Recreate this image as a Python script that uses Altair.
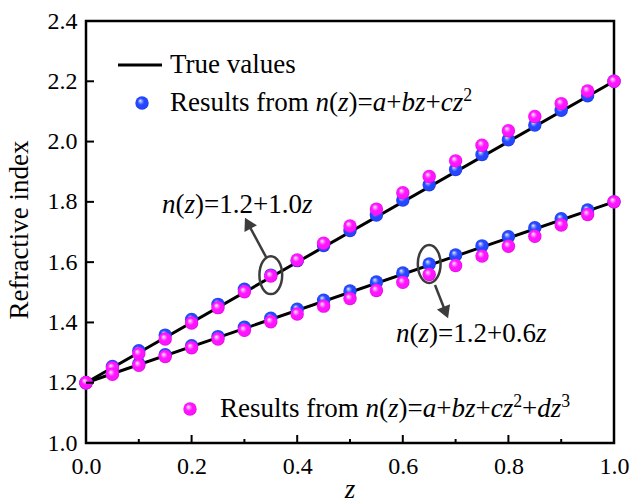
import altair as alt
import pandas as pd

# ---- data ----
z_vals = [0.00, 0.05, 0.10, 0.15, 0.20, 0.25, 0.30, 0.35, 0.40, 0.45, 0.50,
          0.55, 0.60, 0.65, 0.70, 0.75, 0.80, 0.85, 0.90, 0.95, 1.00]

# true profiles n(z)=1.2+1.0z and n(z)=1.2+0.6z (straight lines, end points)
true_z = [0.0, 1.0]
true_upper = [1.2, 2.2]
true_lower = [1.2, 1.8]

# recovered profiles, quadratic model
quad_upper = [1.200, 1.254, 1.306, 1.358, 1.410, 1.460, 1.510, 1.557, 1.605, 1.655, 1.705,
              1.756, 1.806, 1.857, 1.907, 1.957, 2.006, 2.055, 2.104, 2.152, 2.200]
quad_lower = [1.200, 1.232, 1.263, 1.293, 1.323, 1.353, 1.384, 1.414, 1.444, 1.474, 1.504,
              1.534, 1.564, 1.594, 1.624, 1.654, 1.684, 1.714, 1.744, 1.773, 1.800]

# recovered profiles, cubic model
cubic_upper = [1.200, 1.249, 1.296, 1.345, 1.398, 1.449, 1.502, 1.554, 1.607, 1.663, 1.720,
               1.776, 1.830, 1.884, 1.936, 1.988, 2.036, 2.083, 2.126, 2.168, 2.200]
cubic_lower = [1.200, 1.228, 1.258, 1.287, 1.316, 1.345, 1.374, 1.402, 1.428, 1.454, 1.479,
               1.506, 1.533, 1.559, 1.589, 1.620, 1.653, 1.686, 1.723, 1.758, 1.800]

x_ticks = [0.0, 0.2, 0.4, 0.6, 0.8, 1.0]
x_minor = [0.1, 0.3, 0.5, 0.7, 0.9]
y_ticks = [1.0, 1.2, 1.4, 1.6, 1.8, 2.0, 2.2, 2.4]

# annotated samples (index into z_vals) and arrow segments (z, n)
annot_idx_upper = 7
annot_idx_lower = 13
arrow_upper = {"z": [0.341, 0.3065], "n": [1.617, 1.729]}
arrow_lower = {"z": [0.661, 0.6814], "n": [1.524, 1.433]}

# ---- layout / style ----
W, H = 528, 422
FONT = "Times New Roman, Liberation Serif, Tinos, serif"
TICK_FS = 24
TEXT_FS = 27
TITLE_FS = 27
INK = "#3c3c3c"

xs = alt.Scale(domain=[0, 1], nice=False, zero=False)
ys = alt.Scale(domain=[1.0, 2.4], nice=False, zero=False)

x_axis = alt.Axis(values=x_ticks, format=".1f", title=None,
                  labelFont=FONT, labelFontSize=TICK_FS, labelColor="black",
                  labelPadding=11, labelFlush=False, labelOverlap=False,
                  ticks=False, tickSize=0, domain=False, grid=False)
y_axis = alt.Axis(values=y_ticks, format=".1f", title=None,
                  labelFont=FONT, labelFontSize=TICK_FS, labelColor="black",
                  labelPadding=9, labelFlush=False, labelOverlap=False,
                  ticks=False, tickSize=0, domain=False, grid=False)

X = alt.X("z:Q", scale=xs, axis=x_axis)
Y = alt.Y("n:Q", scale=ys, axis=y_axis)


def sphere(light, main, dark):
    return alt.RadialGradient(
        gradient="radial",
        x1=0.36, y1=0.32, r1=0.0, x2=0.5, y2=0.5, r2=0.55,
        stops=[alt.GradientStop(offset=0.0, color="#ffffff"),
               alt.GradientStop(offset=0.18, color=light),
               alt.GradientStop(offset=0.45, color=main),
               alt.GradientStop(offset=0.8, color=main),
               alt.GradientStop(offset=1.0, color=dark)])


BLUE = sphere("#8fa4ff", "#2447ff", "#1630c0")
MAGENTA = sphere("#ff9cff", "#ff14ff", "#c800c8")
PT_SIZE = 180

# ---- tables ----
lines_df = pd.DataFrame({
    "z": true_z + true_z,
    "n": true_upper + true_lower,
    "curve": ["upper"] * 2 + ["lower"] * 2,
})
quad_df = pd.DataFrame({"z": z_vals + z_vals, "n": quad_upper + quad_lower})
cubic_df = pd.DataFrame({"z": z_vals + z_vals, "n": cubic_upper + cubic_lower})

lines = alt.Chart(lines_df).mark_line(color="black", strokeWidth=3).encode(
    x=X, y=Y, detail="curve:N")
quad_pts = alt.Chart(quad_df).mark_circle(fill=BLUE, size=PT_SIZE, opacity=1, strokeWidth=0).encode(x=X, y=Y)
cubic_pts = alt.Chart(cubic_df).mark_circle(fill=MAGENTA, size=PT_SIZE, opacity=1, strokeWidth=0).encode(x=X, y=Y)

# inward ticks
xmaj = alt.Chart(pd.DataFrame({"z": x_ticks[1:-1]})).mark_rule(color="black", strokeWidth=2).encode(
    x=X, y=alt.value(H), y2=alt.value(H - 8))
xmin = alt.Chart(pd.DataFrame({"z": x_minor})).mark_rule(color="black", strokeWidth=2).encode(
    x=X, y=alt.value(H), y2=alt.value(H - 4))
ymaj = alt.Chart(pd.DataFrame({"n": y_ticks[1:-1]})).mark_rule(color="black", strokeWidth=2).encode(
    y=Y, x=alt.value(0), x2=alt.value(8))

# ellipses around the annotated samples
ELLIPSE = "M 0.6 0 A 0.6 1 0 1 1 -0.6 0 A 0.6 1 0 1 1 0.6 0 Z"
ell_df = pd.DataFrame({
    "z": [z_vals[annot_idx_upper], z_vals[annot_idx_lower]],
    "n": [quad_upper[annot_idx_upper], quad_lower[annot_idx_lower]],
})
ellipses = alt.Chart(ell_df).mark_point(shape=ELLIPSE, size=1440, filled=False, stroke=INK,
                                        strokeWidth=2.5, opacity=1).encode(x=X, y=Y)

arrow_layers = []
for seg, ang in [(arrow_upper, 332), (arrow_lower, 158)]:
    seg_df = pd.DataFrame(seg)
    arrow_layers.append(alt.Chart(seg_df).mark_line(color=INK, strokeWidth=2.5).encode(x=X, y=Y))
    arrow_layers.append(alt.Chart(seg_df.tail(1)).mark_point(shape="triangle-up", filled=True, size=200,
                                                            angle=ang, color=INK, opacity=1).encode(x=X, y=Y))

# ---- rich text (Times metrics, em units) ----
REG = {" ": 0.25, "(": 0.333, ")": 0.333, "=": 0.564, "+": 0.564, ".": 0.25,
       "R": 0.667, "T": 0.611, "a": 0.444, "e": 0.444, "f": 0.333, "l": 0.278, "m": 0.778,
       "o": 0.5, "r": 0.333, "s": 0.389, "t": 0.278, "u": 0.5, "v": 0.5}
for d in "0123456789":
    REG[d] = 0.5
ITA = {"n": 0.5, "z": 0.389, "a": 0.5, "b": 0.5, "c": 0.444, "d": 0.5}
ONE = pd.DataFrame({"k": [0]})


def rich(frags, x0, y0, size):
    out = []
    x = x0
    for text, kind in frags:
        fs = size * 0.66 if kind == "s" else size
        table = ITA if kind == "i" else REG
        yy = y0 - size * 0.36 if kind == "s" else y0
        out.append(alt.Chart(ONE).mark_text(
            text=text, font=FONT, fontSize=fs, fontStyle="italic" if kind == "i" else "normal",
            align="left", baseline="alphabetic", color="black").encode(
            x=alt.value(x), y=alt.value(yy)))
        x += sum(table.get(c, 0.5) for c in text) * fs
    return out


nz = [("n", "i"), ("(", "r"), ("z", "i"), (")=", "r")]
quad_label = [("Results from ", "r")] + nz + [("a", "i"), ("+", "r"), ("bz", "i"), ("+", "r"),
                                             ("cz", "i"), ("2", "s")]
cubic_label = [("Results from ", "r")] + nz + [("a", "i"), ("+", "r"), ("bz", "i"), ("+", "r"),
                                              ("cz", "i"), ("2", "s"), ("+", "r"), ("dz", "i"), ("3", "s")]
upper_label = nz + [("1.2+1.0", "r"), ("z", "i")]
lower_label = nz + [("1.2+0.6", "r"), ("z", "i")]

text_layers = []
text_layers += rich([("True values", "r")], 84, 52, TEXT_FS)
text_layers += rich(quad_label, 84, 90, TEXT_FS)
text_layers += rich(cubic_label, 134, 396, TEXT_FS)
text_layers += rich(upper_label, 76, 192, TEXT_FS)
text_layers += rich(lower_label, 310, 321, TEXT_FS)

# axis titles
x_title = alt.Chart(ONE).mark_text(
    text="z", font=FONT, fontSize=TITLE_FS, fontStyle="italic", align="center",
    baseline="alphabetic", color="black").encode(x=alt.value(W / 2), y=alt.value(H + 55))
y_title = alt.Chart(ONE).mark_text(
    text="Refractive index", font=FONT, fontSize=TITLE_FS, angle=270, align="center",
    baseline="alphabetic", color="black").encode(x=alt.value(-58), y=alt.value(209))

# legend keys
key_line = alt.Chart(ONE).mark_rule(color="black", strokeWidth=3).encode(
    x=alt.value(32), x2=alt.value(76), y=alt.value(44))
key_quad = alt.Chart(ONE).mark_circle(fill=BLUE, size=PT_SIZE, opacity=1, strokeWidth=0).encode(
    x=alt.value(56), y=alt.value(82))
key_cubic = alt.Chart(ONE).mark_circle(fill=MAGENTA, size=PT_SIZE, opacity=1, strokeWidth=0).encode(
    x=alt.value(104), y=alt.value(388))

chart = alt.layer(
    lines, quad_pts, cubic_pts, xmaj, xmin, ymaj, ellipses, *arrow_layers,
    key_line, key_quad, key_cubic, *text_layers, x_title, y_title,
).properties(
    width=W, height=H, autosize="none",
    padding={"left": 86, "top": 21, "right": 18, "bottom": 60},
).configure_view(stroke="black", strokeWidth=2.5)

chart.save("out.html", embed_options={"renderer": "svg", "actions": False})
